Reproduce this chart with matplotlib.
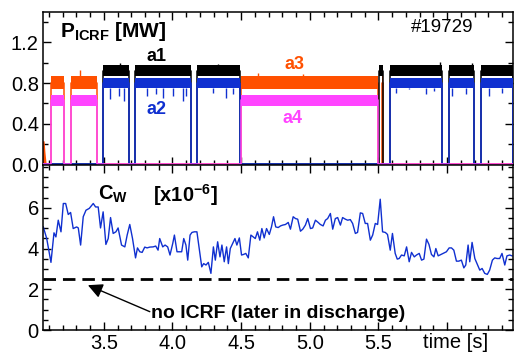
import matplotlib
matplotlib.use("Agg")
import matplotlib.pyplot as plt
from matplotlib.ticker import MultipleLocator, FixedLocator, FuncFormatter

plt.rcParams["font.family"] = ["Liberation Sans", "DejaVu Sans"]
plt.rcParams["mathtext.fontset"] = "custom"
plt.rcParams["mathtext.rm"] = "Liberation Sans"
plt.rcParams["mathtext.bf"] = "Liberation Sans:bold"
plt.rcParams["mathtext.it"] = "Liberation Sans:italic"

# ICRF antenna power, on-intervals [s] and level / noise band [MW]
a1_on = [(3.495, 3.680), (3.726, 4.138), (4.181, 4.489), (5.501, 5.535),
         (5.586, 5.966), (6.015, 6.196), (6.249, 6.480)]
a1_level, a1_lo, a1_hi = 0.92, 0.87, 0.975
a2_on = [(3.495, 3.680), (3.726, 4.138), (4.181, 4.489),
         (5.586, 5.966), (6.015, 6.196), (6.249, 6.480)]
a2_level, a2_lo, a2_hi = 0.80, 0.755, 0.855
a3_on = [(3.113, 3.210), (3.258, 3.452), (4.501, 5.494), (5.526, 5.532)]
a3_level, a3_lo, a3_hi = 0.80, 0.74, 0.87
a4_on = [(3.113, 3.210), (3.258, 3.452), (4.501, 5.494)]
a4_level, a4_lo, a4_hi = 0.63, 0.58, 0.685

a3_start_t = [3.057, 3.062, 3.071]
a3_start_p = [0.21, 0.12, 0.0]

a2_spike_t = [3.544, 3.612, 3.646, 3.811, 3.883, 3.931, 4.004, 4.077, 4.101,
              4.295, 4.392, 4.440, 5.627, 5.724, 5.846, 5.906, 6.039, 6.136,
              6.305, 6.402]
a2_spike_p = [0.64, 0.67, 0.62, 0.67, 0.69, 0.65, 0.67, 0.62, 0.67,
              0.70, 0.65, 0.69, 0.70, 0.74, 0.69, 0.72, 0.67, 0.69,
              0.67, 0.70]
a3_spike_t = [3.326, 4.62, 4.95]
a3_spike_p = [0.93, 0.90, 0.89]
a1_spike_t = [3.62, 4.33, 5.95, 6.18]
a1_spike_p = [1.00, 0.99, 1.01, 1.00]

# tungsten concentration C_W [x1e-6]
cw_t = [3.059, 3.084, 3.115, 3.137, 3.151, 3.168, 3.188, 3.205, 3.222, 3.241,
        3.258, 3.277, 3.302, 3.314, 3.331, 3.350, 3.370, 3.394, 3.423, 3.440,
        3.459, 3.476, 3.495, 3.515, 3.532, 3.549, 3.568, 3.588, 3.604, 3.629,
        3.653, 3.670, 3.689, 3.709, 3.731, 3.745, 3.762, 3.779, 3.798, 3.815,
        3.835, 3.859, 3.878, 3.895, 3.907, 3.929, 3.946, 3.965, 3.982, 4.002,
        4.014, 4.033, 4.050, 4.067, 4.082, 4.098, 4.111, 4.128, 4.142, 4.159,
        4.178, 4.196, 4.213, 4.227, 4.244, 4.261, 4.280, 4.298, 4.312, 4.329,
        4.346, 4.360, 4.377, 4.394, 4.407, 4.421, 4.438, 4.455, 4.469, 4.487,
        4.503, 4.518, 4.534, 4.552, 4.571, 4.588, 4.603, 4.619, 4.636, 4.651,
        4.668, 4.685, 4.705, 4.721, 4.736, 4.752, 4.770, 4.787, 4.803, 4.823,
        4.843, 4.859, 4.879, 4.896, 4.912, 4.932, 4.949, 4.968, 4.985, 5.005,
        5.021, 5.041, 5.061, 5.077, 5.097, 5.114, 5.130, 5.150, 5.167, 5.186,
        5.203, 5.223, 5.239, 5.259, 5.276, 5.295, 5.312, 5.332, 5.348, 5.368,
        5.385, 5.404, 5.421, 5.441, 5.458, 5.477, 5.494, 5.513, 5.530, 5.550,
        5.566, 5.586, 5.602, 5.622, 5.637, 5.651, 5.668, 5.688, 5.705, 5.724,
        5.741, 5.761, 5.777, 5.797, 5.814, 5.831, 5.850, 5.868, 5.886, 5.904,
        5.918, 5.935, 5.955, 5.971, 5.995, 6.015, 6.032, 6.049, 6.068, 6.085,
        6.104, 6.122, 6.136, 6.153, 6.165, 6.182, 6.202, 6.218, 6.238, 6.255,
        6.274, 6.293, 6.310, 6.330, 6.347, 6.364, 6.383, 6.400, 6.420, 6.436,
        6.456, 6.473]
cw = [5.06, 4.49, 3.32, 4.77, 4.57, 5.39, 4.82, 6.21, 6.21, 5.67,
      5.77, 4.98, 5.06, 5.01, 4.17, 5.56, 5.88, 5.97, 6.21, 6.04,
      6.04, 5.01, 5.80, 4.20, 4.49, 5.52, 4.74, 4.82, 5.01, 4.17,
      4.08, 4.66, 5.18, 4.49, 3.54, 4.03, 3.84, 3.81, 4.07, 4.03,
      4.07, 4.08, 4.12, 3.92, 4.49, 4.08, 4.17, 4.08, 3.68, 4.25,
      4.66, 3.84, 3.84, 3.84, 4.49, 4.17, 3.43, 4.66, 4.79, 4.82,
      4.82, 3.92, 3.10, 3.26, 3.19, 3.32, 2.78, 4.08, 3.43, 4.33,
      3.59, 4.17, 3.35, 4.08, 3.26, 4.00, 4.25, 4.49, 4.17, 4.52,
      3.68, 3.71, 3.76, 3.54, 4.66, 4.57, 4.49, 4.82, 4.41, 4.98,
      4.52, 4.98, 4.69, 5.06, 5.56, 5.06, 5.03, 5.11, 5.15, 5.18,
      5.28, 4.95, 5.56, 5.47, 5.44, 4.85, 4.95, 5.15, 5.47, 4.98,
      5.01, 5.39, 5.28, 5.18, 5.11, 5.39, 5.47, 5.72, 4.95, 5.47,
      5.52, 5.15, 5.52, 5.44, 5.39, 5.42, 5.23, 4.74, 4.79, 5.75,
      5.72, 5.23, 5.23, 4.41, 4.66, 5.23, 5.18, 6.42, 4.82, 4.79,
      4.69, 3.92, 4.74, 3.76, 3.48, 3.51, 3.68, 3.64, 4.08, 3.35,
      3.81, 3.59, 3.68, 3.76, 3.43, 3.48, 4.46, 4.20, 3.71, 3.59,
      4.00, 3.64, 3.71, 3.76, 3.84, 4.03, 4.03, 3.92, 3.38, 3.38,
      3.43, 3.05, 3.19, 4.17, 3.35, 4.30, 3.51, 3.26, 2.94, 3.02,
      2.78, 2.73, 2.94, 3.43, 3.54, 3.51, 3.51, 3.76, 3.19, 3.64,
      3.68, 3.64]
cw_no_icrf = 2.5

time_ticks = [3.5, 4.0, 4.5, 5.0, 5.5, 6.0]
time_labels = ["3.5", "4.0", "4.5", "5.0", "5.5", ""]
cw_ticks = [0, 2, 4, 6]

t_min, t_max = 3.057, 6.48
blue = "#1030d0"
orange = "#ff5000"
magenta = "#ff44ff"


def draw_antenna(ax, on, level, lo, hi, color, z):
    xs, ys = [t_min], [0.0]
    for s, e in on:
        xs += [s, s, e, e]
        ys += [0.0, level, level, 0.0]
        ax.fill_between([s, e], [lo, lo], [hi, hi], color=color, lw=0, zorder=z)
    xs.append(t_max)
    ys.append(0.0)
    ax.plot(xs, ys, color=color, lw=1.1, zorder=z)


def style_axis(ax):
    ax.set_xlim(t_min, t_max)
    ax.set_xticks(time_ticks)
    ax.set_xticklabels(time_labels)
    ax.xaxis.set_minor_locator(MultipleLocator(0.1))
    ax.tick_params(which="both", direction="in", top=True, right=True,
                   labelsize=14.5, width=1.0, pad=3)
    ax.tick_params(which="major", length=6)
    ax.tick_params(which="minor", length=3.5)
    for sp in ax.spines.values():
        sp.set_linewidth(1.1)


fig = plt.figure(figsize=(5.14, 3.56), dpi=100)
ax1 = fig.add_axes([43 / 514, 1 - 165 / 356, 470 / 514, 153 / 356])
ax2 = fig.add_axes([43 / 514, 1 - 330 / 356, 470 / 514, 165 / 356])

# top panel: P_ICRF
draw_antenna(ax1, a3_on, a3_level, a3_lo, a3_hi, orange, 2)
draw_antenna(ax1, a1_on, a1_level, a1_lo, a1_hi, "black", 3)
draw_antenna(ax1, a2_on, a2_level, a2_lo, a2_hi, blue, 4)
draw_antenna(ax1, a4_on, a4_level, a4_lo, a4_hi, magenta, 5)
ax1.plot(a3_start_t, a3_start_p, color=orange, lw=2.5, zorder=2)
ax1.vlines(a2_spike_t, a2_spike_p, a2_lo, color=blue, lw=1.0, zorder=4)
ax1.vlines(a3_spike_t, a3_hi, a3_spike_p, color=orange, lw=1.0, zorder=2)
ax1.vlines(a1_spike_t, a1_hi, a1_spike_p, color="black", lw=1.0, zorder=3)

style_axis(ax1)
ax1.set_ylim(-0.005, 1.5)
ax1.yaxis.set_major_locator(MultipleLocator(0.4))
ax1.yaxis.set_minor_locator(MultipleLocator(0.2))
ax1.yaxis.set_major_formatter(FuncFormatter(lambda v, p: f"{v:.1f}"))
ax1.tick_params(labelbottom=False)
ax1.text(0.036, 0.875, r"$\mathbf{P}_{\mathbf{ICRF}}$ [MW]", transform=ax1.transAxes,
         fontsize=15, fontweight="bold", ha="left", va="center")
ax1.text(0.915, 0.90, "#19729", transform=ax1.transAxes, fontsize=13.5,
         ha="right", va="center")
ax1.text(3.885, 1.06, "a1", fontsize=13, fontweight="bold", color="black",
         ha="center", va="center")
ax1.text(3.885, 0.54, "a2", fontsize=13, fontweight="bold", color=blue,
         ha="center", va="center")
ax1.text(4.888, 0.98, "a3", fontsize=13, fontweight="bold", color=orange,
         ha="center", va="center")
ax1.text(4.874, 0.45, "a4", fontsize=13, fontweight="bold", color=magenta,
         ha="center", va="center")

# bottom panel: C_W
ax2.plot(cw_t, cw, color=blue, lw=1.0)
ax2.axhline(cw_no_icrf, color="black", lw=2.0, dashes=(4.5, 2.5))
style_axis(ax2)
ax2.set_ylim(0, 8.1)
ax2.yaxis.set_major_locator(FixedLocator(cw_ticks))
ax2.yaxis.set_minor_locator(MultipleLocator(0.5))
ax2.text(0.117, 0.82, r"$\mathbf{C}_{\mathbf{W}}$", transform=ax2.transAxes,
         fontsize=14.5, ha="left", va="center")
ax2.text(0.234, 0.82, r"[x10$^{\mathbf{-6}}$]", transform=ax2.transAxes,
         fontsize=14.5, fontweight="bold", ha="left", va="center")
ax2.annotate("", xy=(3.384, 2.2), xytext=(3.835, 0.9),
             arrowprops=dict(arrowstyle="-|>", mutation_scale=22, lw=1.0,
                             color="black", shrinkA=0, shrinkB=0))
ax2.text(3.842, 0.83, "no ICRF (later in discharge)", fontsize=14,
         fontweight="bold", ha="left", va="center")
ax2.text(0.808, -0.075, "time [s]", transform=ax2.transAxes, fontsize=14.5,
         ha="left", va="center")

fig.savefig("out.png", dpi=100)
